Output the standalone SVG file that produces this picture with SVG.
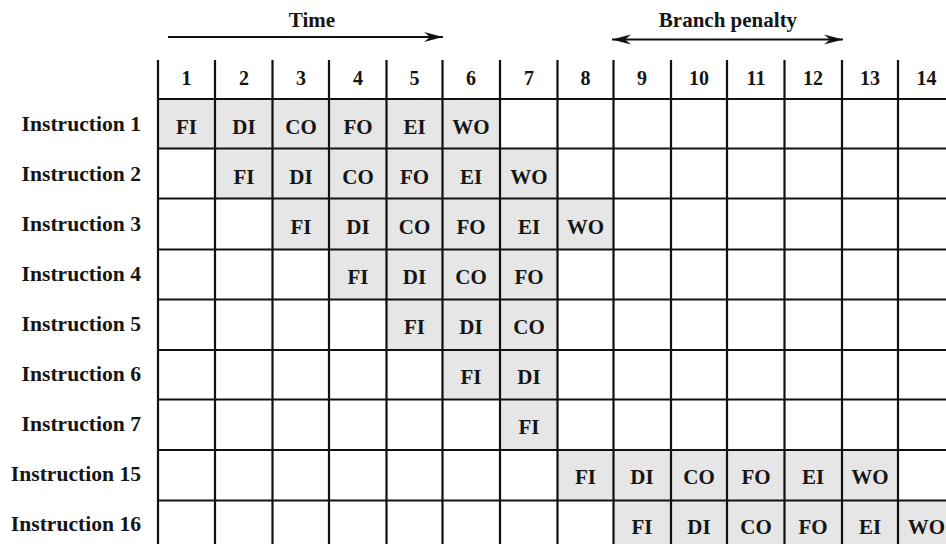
<svg xmlns="http://www.w3.org/2000/svg" width="946" height="544" viewBox="0 0 946 544">
<defs>
<style>
text{font-family:"Liberation Serif","Times New Roman",serif;font-weight:bold;fill:#151515}
.lab{font-size:21.6px;text-anchor:end}
.hd{font-size:20px;text-anchor:middle}
.c{font-size:21px;text-anchor:middle}
.t{font-size:21px;text-anchor:middle}
.sh{fill:#e6e6e6}
.g{stroke:#111;stroke-width:2.2;fill:none}
.ar{stroke:#111;stroke-width:2;fill:none}
</style>
<marker id="ah" viewBox="-19 -6 20 12" refX="0" refY="0" markerWidth="20" markerHeight="12" markerUnits="userSpaceOnUse" orient="auto-start-reverse">
<path d="M0,0 L-19,-5 L-13,0 L-19,5 Z" fill="#111"/>
</marker>
</defs>
<rect width="946" height="544" fill="#fff"/>

<g id="title-time">
<text class="t" x="312" y="27">Time</text>
</g>
<g id="title-branch">
<text class="t" x="728" y="27">Branch penalty</text>
</g>

<g id="shading">
<rect class="sh" x="158" y="99" width="342" height="50"/>
<rect class="sh" x="215" y="149" width="342" height="50"/>
<rect class="sh" x="273" y="199" width="341" height="51"/>
<rect class="sh" x="329" y="250" width="228" height="50"/>
<rect class="sh" x="387" y="300" width="170" height="50"/>
<rect class="sh" x="442" y="350" width="115" height="50"/>
<rect class="sh" x="500" y="400" width="57" height="50"/>
<rect class="sh" x="557" y="450" width="341" height="51"/>
<rect class="sh" x="614" y="501" width="332" height="43"/>
</g>

<g id="grid">
<path class="g" d="M158,60V544M215,60V544M272.5,60V544M329,60V544M386.5,60V544M442.5,60V544M500,60V544M557.5,60V544M613.5,60V544M671,60V544M727,60V544M784.5,60V544M842,60V544M898,60V544"/>
<path class="g" d="M158,99H946M158,148.5H946M158,198.5H946M158,249.5H946M158,299.5H946M158,350H946M158,399.5H946M158,450H946M158,500.5H946"/>
</g>

<g id="header">
<text class="hd" x="186.5" y="85">1</text>
<text class="hd" x="244" y="85">2</text>
<text class="hd" x="301" y="85">3</text>
<text class="hd" x="358" y="85">4</text>
<text class="hd" x="414.5" y="85">5</text>
<text class="hd" x="471" y="85">6</text>
<text class="hd" x="529" y="85">7</text>
<text class="hd" x="585.5" y="85">8</text>
<text class="hd" x="642" y="85">9</text>
<text class="hd" x="699" y="85">10</text>
<text class="hd" x="756" y="85">11</text>
<text class="hd" x="813" y="85">12</text>
<text class="hd" x="870" y="85">13</text>
<text class="hd" x="926.5" y="85">14</text>
</g>

<g id="instr1">
<text class="lab" x="141" y="131">Instruction 1</text>
<text class="c" x="186.5" y="134">FI</text><text class="c" x="244" y="134">DI</text><text class="c" x="301" y="134">CO</text><text class="c" x="358" y="134">FO</text><text class="c" x="414.5" y="134">EI</text><text class="c" x="471" y="134">WO</text>
</g>
<g id="instr2">
<text class="lab" x="141" y="181">Instruction 2</text>
<text class="c" x="244" y="184">FI</text><text class="c" x="301" y="184">DI</text><text class="c" x="358" y="184">CO</text><text class="c" x="414.5" y="184">FO</text><text class="c" x="471" y="184">EI</text><text class="c" x="529" y="184">WO</text>
</g>
<g id="instr3">
<text class="lab" x="141" y="231">Instruction 3</text>
<text class="c" x="301" y="234">FI</text><text class="c" x="358" y="234">DI</text><text class="c" x="414.5" y="234">CO</text><text class="c" x="471" y="234">FO</text><text class="c" x="529" y="234">EI</text><text class="c" x="585.5" y="234">WO</text>
</g>
<g id="instr4">
<text class="lab" x="141" y="281">Instruction 4</text>
<text class="c" x="358" y="284">FI</text><text class="c" x="414.5" y="284">DI</text><text class="c" x="471" y="284">CO</text><text class="c" x="529" y="284">FO</text>
</g>
<g id="instr5">
<text class="lab" x="141" y="331">Instruction 5</text>
<text class="c" x="414.5" y="334">FI</text><text class="c" x="471" y="334">DI</text><text class="c" x="529" y="334">CO</text>
</g>
<g id="instr6">
<text class="lab" x="141" y="381">Instruction 6</text>
<text class="c" x="471" y="384">FI</text><text class="c" x="529" y="384">DI</text>
</g>
<g id="instr7">
<text class="lab" x="141" y="431">Instruction 7</text>
<text class="c" x="529" y="434">FI</text>
</g>
<g id="instr15">
<text class="lab" x="141" y="481">Instruction 15</text>
<text class="c" x="585.5" y="484">FI</text><text class="c" x="642" y="484">DI</text><text class="c" x="699" y="484">CO</text><text class="c" x="756" y="484">FO</text><text class="c" x="813" y="484">EI</text><text class="c" x="870" y="484">WO</text>
</g>
<g id="instr16">
<text class="lab" x="141" y="531">Instruction 16</text>
<text class="c" x="642" y="534">FI</text><text class="c" x="699" y="534">DI</text><text class="c" x="756" y="534">CO</text><text class="c" x="813" y="534">FO</text><text class="c" x="870" y="534">EI</text><text class="c" x="926.5" y="534">WO</text>
</g>

<g id="connectors">
<path class="ar" d="M168,37H443" marker-end="url(#ah)"/>
<path class="ar" d="M612,39.5H843" marker-start="url(#ah)" marker-end="url(#ah)"/>
</g>
</svg>
